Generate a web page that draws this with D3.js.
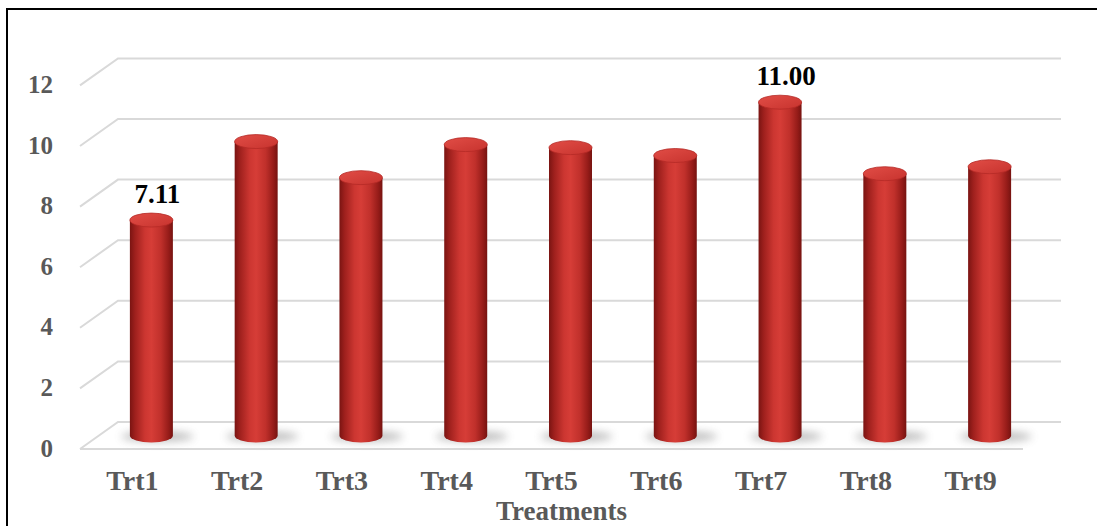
<!DOCTYPE html>
<html>
<head>
<meta charset="utf-8">
<script src="https://cdn.jsdelivr.net/npm/d3@7"></script>
<style>
  html, body { margin: 0; padding: 0; background: #fff; }
  svg { display: block; }
</style>
</head>
<body>
<svg id="chart" width="1097" height="526"></svg>
<script>
// Treatment means
const categories = ["Trt1", "Trt2", "Trt3", "Trt4", "Trt5", "Trt6", "Trt7", "Trt8", "Trt9"];
const values = [7.11, 9.70, 8.51, 9.60, 9.50, 9.24, 11.00, 8.64, 8.87];
const labelled = ["Trt1", "Trt7"];
const yTicks = [0, 2, 4, 6, 8, 10, 12];
const xTitle = "Treatments";

const W = 1097, H = 526;
const serif = "'Liberation Serif', 'Times New Roman', serif";
const svg = d3.select("#chart");
const defs = svg.append("defs");

// 3D depth of the plot box (front plane -> back wall)
const depth = { dx: 38, dy: -27 };

const x = d3.scaleBand().domain(categories).range([80, 1023]).paddingInner(0).paddingOuter(0);
const y = d3.scaleLinear().domain([0, 12]).range([449, 85.4]);

// cylinder body shading
const body = defs.append("linearGradient").attr("id", "cyl").attr("x1", "0").attr("x2", "1").attr("y1", "0").attr("y2", "0");
[[0, "#7a1412"], [0.12, "#9e201d"], [0.35, "#cc3631"], [0.5, "#d63d37"], [0.72, "#c0302b"], [0.9, "#961c19"], [1, "#761310"]]
  .forEach(([o, c]) => body.append("stop").attr("offset", o).attr("stop-color", c));
const cap = defs.append("linearGradient").attr("id", "cap").attr("x1", "0").attr("x2", "1").attr("y1", "0").attr("y2", "1");
[[0, "#e14d46"], [1, "#c7332e"]].forEach(([o, c]) => cap.append("stop").attr("offset", o).attr("stop-color", c));
const blur = defs.append("filter").attr("id", "soft").attr("x", "-50%").attr("y", "-200%").attr("width", "200%").attr("height", "500%");
blur.append("feGaussianBlur").attr("stdDeviation", 4);

// chart frame
svg.append("rect").attr("x", 7).attr("y", 9).attr("width", W).attr("height", H)
  .attr("fill", "none").attr("stroke", "#000").attr("stroke-width", 2);

// gridlines: back wall + left side diagonal
const x0 = x.range()[0], x1 = x.range()[1];
const grid = svg.append("g").attr("stroke", "#d9d9d9").attr("stroke-width", 2).attr("fill", "none");
yTicks.forEach(t => {
  const yf = y(t), yb = y(t) + depth.dy;
  grid.append("path").attr("d", `M${x0},${yf}L${x0 + depth.dx},${yb}L${x1 + depth.dx},${yb}`);
});
// floor front edge
grid.append("line").attr("x1", x0).attr("x2", x1).attr("y1", y(0)).attr("y2", y(0));

// y-axis labels
svg.append("g").selectAll("text").data(yTicks).join("text")
  .attr("x", 53).attr("y", d => y(d) - 1)
  .attr("text-anchor", "end").attr("dominant-baseline", "central")
  .attr("font-family", serif).attr("font-weight", "bold")
  .attr("font-size", 25).attr("fill", "#595959")
  .text(d => d);

// cylinders sit half-way into the box
const bw = 43, ry = 7;
const mx = depth.dx / 2, my = depth.dy / 2;
const bars = svg.append("g").selectAll("g").data(categories.map((c, i) => ({ c, v: values[i] }))).join("g");
const cx = d => x(d.c) + x.bandwidth() / 2 + mx;
const yBase = y(0) + my;
const yTop = d => y(d.v) + my;

bars.append("ellipse").attr("cx", d => cx(d) + 6).attr("cy", yBase + 1)
  .attr("rx", 36).attr("ry", 5).attr("fill", "#555").attr("opacity", 0.4).attr("filter", "url(#soft)");
bars.append("path")
  .attr("d", d => {
    const l = cx(d) - bw / 2, r = cx(d) + bw / 2;
    return `M${l},${yTop(d)}L${l},${yBase}A${bw / 2},${ry} 0 0 0 ${r},${yBase}L${r},${yTop(d)}Z`;
  })
  .attr("fill", "url(#cyl)");
bars.append("ellipse").attr("cx", cx).attr("cy", yTop).attr("rx", bw / 2).attr("ry", ry)
  .attr("fill", "url(#cap)").attr("stroke", "#b52a26").attr("stroke-width", 0.8);

// value labels
bars.filter(d => labelled.includes(d.c)).append("text")
  .attr("x", d => cx(d) + 6).attr("y", d => yTop(d) - ry - 10)
  .attr("text-anchor", "middle")
  .attr("font-family", serif).attr("font-weight", "bold")
  .attr("font-size", 27).attr("fill", "#000")
  .text(d => d.v.toFixed(2));

// category labels on the front plane
svg.append("g").selectAll("text").data(categories).join("text")
  .attr("x", d => x(d) + x.bandwidth() / 2).attr("y", 490)
  .attr("text-anchor", "middle")
  .attr("font-family", serif).attr("font-weight", "bold")
  .attr("font-size", 28).attr("fill", "#595959")
  .text(d => d);

svg.append("text")
  .attr("x", (x0 + x1) / 2 + 10).attr("y", 520)
  .attr("text-anchor", "middle")
  .attr("font-family", serif).attr("font-weight", "bold")
  .attr("font-size", 27).attr("fill", "#595959")
  .text(xTitle);
</script>
</body>
</html>
